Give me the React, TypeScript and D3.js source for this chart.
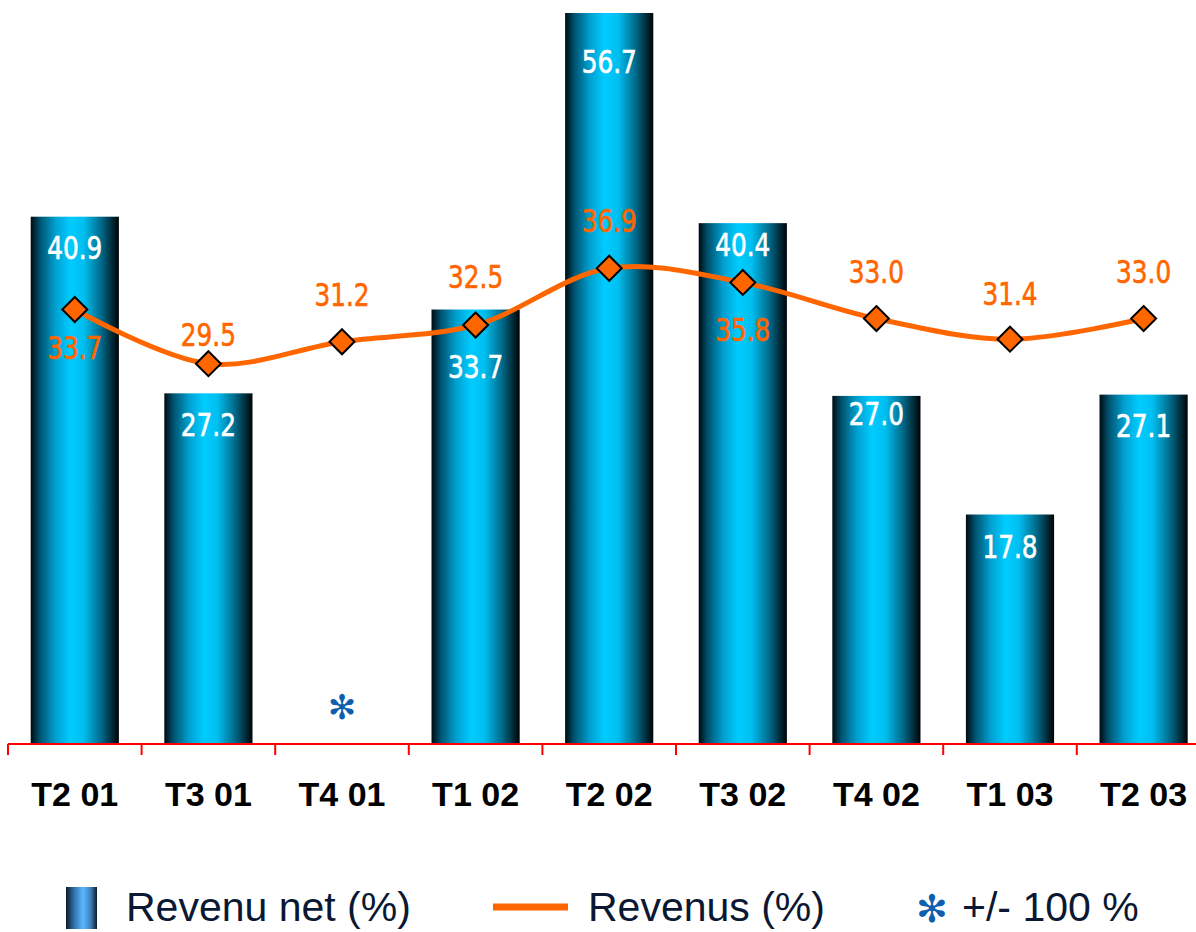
import React from "react";
import * as d3 from "d3";

const categories = ["T2 01", "T3 01", "T4 01", "T1 02", "T2 02", "T3 02", "T4 02", "T1 03", "T2 03"];
const netValues: (number | null)[] = [40.9, 27.2, null, 33.7, 56.7, 40.4, 27.0, 17.8, 27.1];
const revValues = [33.7, 29.5, 31.2, 32.5, 36.9, 35.8, 33.0, 31.4, 33.0];
const missingMarker = ["", "", "✻", "", "", "", "", "", ""];
// label layout (pixel offsets of label centre)
const netLabelDy = [31, 31, 0, 57, 48, 21, 18, 32, 31];
const revLabelDy = [38, -29, -47, -48, -48, 47, -47, -46, -47];

const W = 1196;
const H = 932;
const baseY = 744;
const left = 8;
const step = 133.6;

export default function App() {
  const x = d3
    .scaleBand<string>()
    .domain(categories)
    .range([left, left + step * categories.length])
    .paddingInner(0.34)
    .paddingOuter(0.17);
  const y = d3.scaleLinear().domain([0, 56.7]).range([baseY, 13]);
  const cx = (c: string) => (x(c) as number) + x.bandwidth() / 2;

  const line = d3
    .line<number>()
    .x((_, i) => cx(categories[i]))
    .y((d) => y(d))
    .curve(d3.curveCatmullRom.alpha(0.5));

  const labelFont = "'Liberation Sans Narrow', 'DejaVu Sans Condensed', 'Arial Narrow', sans-serif";
  const r = 12.5;
  const sx = 0.86;

  const numLabel = (key: string, px: number, py: number, txt: string, fill: string) => (
    <text
      key={key}
      transform={`translate(${px},${py}) scale(${sx},1)`}
      textAnchor="middle"
      fontFamily={labelFont}
      fontSize={32}
      fill={fill}
      stroke={fill}
      strokeWidth={0.6}
    >
      {txt}
    </text>
  );

  return (
    <svg width={W} height={H} style={{ position: "absolute", left: 0, top: 0, background: "#fff" }}>
      <defs>
        <linearGradient id="barGrad" x1="0" x2="1" y1="0" y2="0">
          <stop offset="0%" stopColor="#000a10" />
          <stop offset="10%" stopColor="#00506c" />
          <stop offset="28%" stopColor="#00a0d0" />
          <stop offset="45%" stopColor="#00ccff" />
          <stop offset="60%" stopColor="#00bff0" />
          <stop offset="80%" stopColor="#006a8a" />
          <stop offset="100%" stopColor="#000305" />
        </linearGradient>
        <linearGradient id="legGrad" x1="0" x2="1" y1="0" y2="0">
          <stop offset="0%" stopColor="#0a1a2a" />
          <stop offset="25%" stopColor="#2f6fa6" />
          <stop offset="55%" stopColor="#5ab8ff" />
          <stop offset="80%" stopColor="#3d7fb8" />
          <stop offset="100%" stopColor="#0a1a2a" />
        </linearGradient>
      </defs>

      {/* bars */}
      {categories.map((c, i) => {
        const v = netValues[i];
        if (v == null) return null;
        return (
          <rect key={"b" + c} x={x(c)} y={y(v)} width={x.bandwidth()} height={baseY - y(v)} fill="url(#barGrad)" />
        );
      })}

      {/* bar labels */}
      {categories.map((c, i) => {
        const v = netValues[i];
        if (v == null) return null;
        return numLabel("bl" + c, cx(c), y(v) + netLabelDy[i] + 11.5, v.toFixed(1), "#ffffff");
      })}

      {/* missing markers */}
      {categories.map((c, i) =>
        missingMarker[i] ? (
          <text key={"m" + c} x={cx(c)} y={719} textAnchor="middle" fontFamily="'DejaVu Sans', sans-serif" fontSize={34} fill="#0f5fae">
            {missingMarker[i]}
          </text>
        ) : null
      )}

      {/* axis */}
      <line x1={left} x2={W} y1={baseY} y2={baseY} stroke="#ff0000" strokeWidth={2} />
      {d3.range(categories.length + 1).map((i) => (
        <line key={"t" + i} x1={left + i * step} x2={left + i * step} y1={baseY} y2={baseY + 11} stroke="#ff0000" strokeWidth={2} />
      ))}
      {categories.map((c) => (
        <text
          key={"c" + c}
          x={cx(c)}
          y={806}
          textAnchor="middle"
          fontFamily="'Liberation Sans', Arial, sans-serif"
          fontWeight="bold"
          fontSize={34}
          fill="#000"
        >
          {c}
        </text>
      ))}

      {/* line */}
      <path d={line(revValues) || ""} fill="none" stroke="#ff6600" strokeWidth={5} />
      {revValues.map((v, i) => {
        const px = cx(categories[i]);
        const py = y(v);
        return (
          <path
            key={"d" + i}
            d={`M${px},${py - r}L${px + r},${py}L${px},${py + r}L${px - r},${py}Z`}
            fill="#ff6600"
            stroke="#000"
            strokeWidth={2}
          />
        );
      })}
      {revValues.map((v, i) => numLabel("rl" + i, cx(categories[i]), y(v) + revLabelDy[i] + 11.5, v.toFixed(1), "#ff6600"))}

      {/* legend */}
      <rect x={66} y={887} width={31} height={42} fill="url(#legGrad)" />
      <text x={126} y={921} fontFamily="'Liberation Sans', Arial, sans-serif" fontSize={41} fill="#0a1833">
        Revenu net (%)
      </text>
      <line x1={493} x2={568} y1={907} y2={907} stroke="#ff6600" strokeWidth={7} />
      <text x={588} y={921} fontFamily="'Liberation Sans', Arial, sans-serif" fontSize={41} fill="#0a1833">
        Revenus (%)
      </text>
      <text x={932} y={922} textAnchor="middle" fontFamily="'DejaVu Sans', sans-serif" fontSize={38} fill="#0f5fae">
        ✻
      </text>
      <text x={962} y={921} fontFamily="'Liberation Sans', Arial, sans-serif" fontSize={41} fill="#0a1833">
        +/- 100 %
      </text>
    </svg>
  );
}
